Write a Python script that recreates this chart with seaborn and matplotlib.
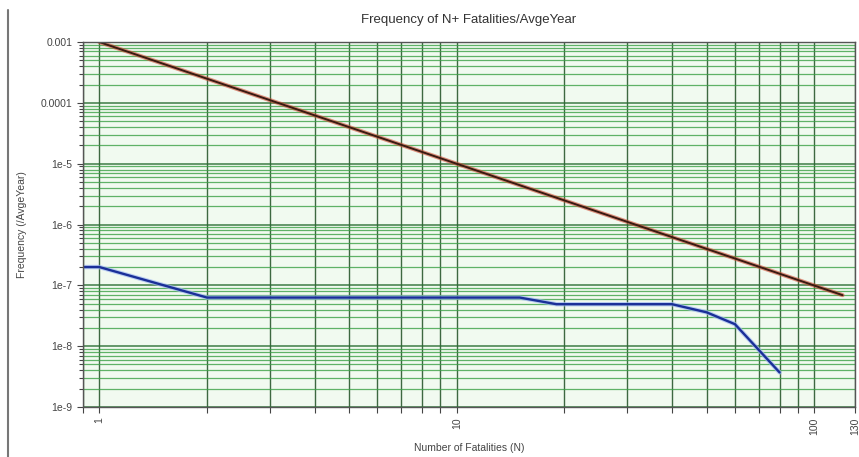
import numpy as np
import pandas as pd
import seaborn as sns
import matplotlib.pyplot as plt
from matplotlib.ticker import LogLocator, FixedLocator, NullFormatter
from matplotlib.lines import Line2D

# dati
n_criterion = [1, 120]
f_criterion = [1e-3, 6.9e-8]

n_result = [0.9, 1, 2, 15, 19, 40, 50, 60, 80]
f_result = [2.0e-7, 2.0e-7, 6.3e-8, 6.3e-8, 4.9e-8, 4.9e-8, 3.6e-8, 2.3e-8, 3.7e-9]

x_ticks = [1, 10, 100, 130]
x_ticklabels = ['1', '10', '100', '130']
y_ticks = [1e-3, 1e-4, 1e-5, 1e-6, 1e-7, 1e-8, 1e-9]
y_ticklabels = ['0.001', '0.0001', '1e-5', '1e-6', '1e-7', '1e-8', '1e-9']

df_crit = pd.DataFrame({'N': n_criterion, 'F': f_criterion})
df_res = pd.DataFrame({'N': n_result, 'F': f_result})

sns.set_style('white')
plt.rcParams['font.family'] = ['Liberation Sans', 'DejaVu Sans']

fig = plt.figure(figsize=(8.59, 4.57), dpi=100)
ax = fig.add_axes([0.0966, 0.1094, 0.8987, 0.7986])
ax.set_facecolor('#f1faf0')

ax.set_xscale('log')
ax.set_yscale('log')
ax.set_xlim(0.9, 130)
ax.set_ylim(1e-9, 1e-3)

# griglia
ax.xaxis.set_major_locator(FixedLocator([1, 10, 100]))
ax.xaxis.set_minor_locator(LogLocator(base=10, subs=np.arange(2, 10)))
ax.yaxis.set_major_locator(FixedLocator(y_ticks))
ax.yaxis.set_minor_locator(LogLocator(base=10, subs=np.arange(2, 10)))
ax.grid(True, which='major', axis='y', color='#2b6e33', lw=1.1, alpha=0.9)
ax.grid(True, which='minor', axis='y', color='#3aa045', lw=0.9, alpha=0.8)
ax.grid(True, which='both', axis='x', color='#1e4f22', lw=1.0, alpha=0.85)
ax.set_axisbelow(True)

# linee
sns.lineplot(data=df_crit, x='N', y='F', ax=ax, color='#d04a30', lw=3.0, alpha=0.6)
sns.lineplot(data=df_crit, x='N', y='F', ax=ax, color='#3a1a12', lw=1.4)
sns.lineplot(data=df_res, x='N', y='F', ax=ax, color='#9fb8f0', lw=3.2, alpha=0.7)
sns.lineplot(data=df_res, x='N', y='F', ax=ax, color='#1a2f98', lw=1.7)

ax.xaxis.set_major_locator(FixedLocator(x_ticks))
ax.set_xticklabels(x_ticklabels, rotation=90)
ax.xaxis.set_minor_formatter(NullFormatter())
ax.set_yticks(y_ticks)
ax.set_yticklabels(y_ticklabels)
ax.yaxis.set_minor_formatter(NullFormatter())

ax.tick_params(axis='both', which='both', direction='out', length=4, width=0.8,
               color='#444444', labelsize=7.5, labelcolor='#444444',
               bottom=True, left=True)
ax.tick_params(axis='y', which='minor', length=3)

for s in ax.spines.values():
    s.set_color('#555555')
    s.set_linewidth(1.0)

ax.set_title('Frequency of N+ Fatalities/AvgeYear', fontsize=9.5, color='#333333', pad=14)
ax.set_xlabel('Number of Fatalities (N)', fontsize=7.5, color='#444444', labelpad=6)
ax.set_ylabel('Frequency (/AvgeYear)', fontsize=7.5, color='#444444', labelpad=10)

# bordo sinistro della finestra
fig.add_artist(Line2D([8 / 859, 8 / 859], [0.0, 1 - 10 / 457], color='#777777', lw=1.5))

fig.savefig('out.png', dpi=100)
